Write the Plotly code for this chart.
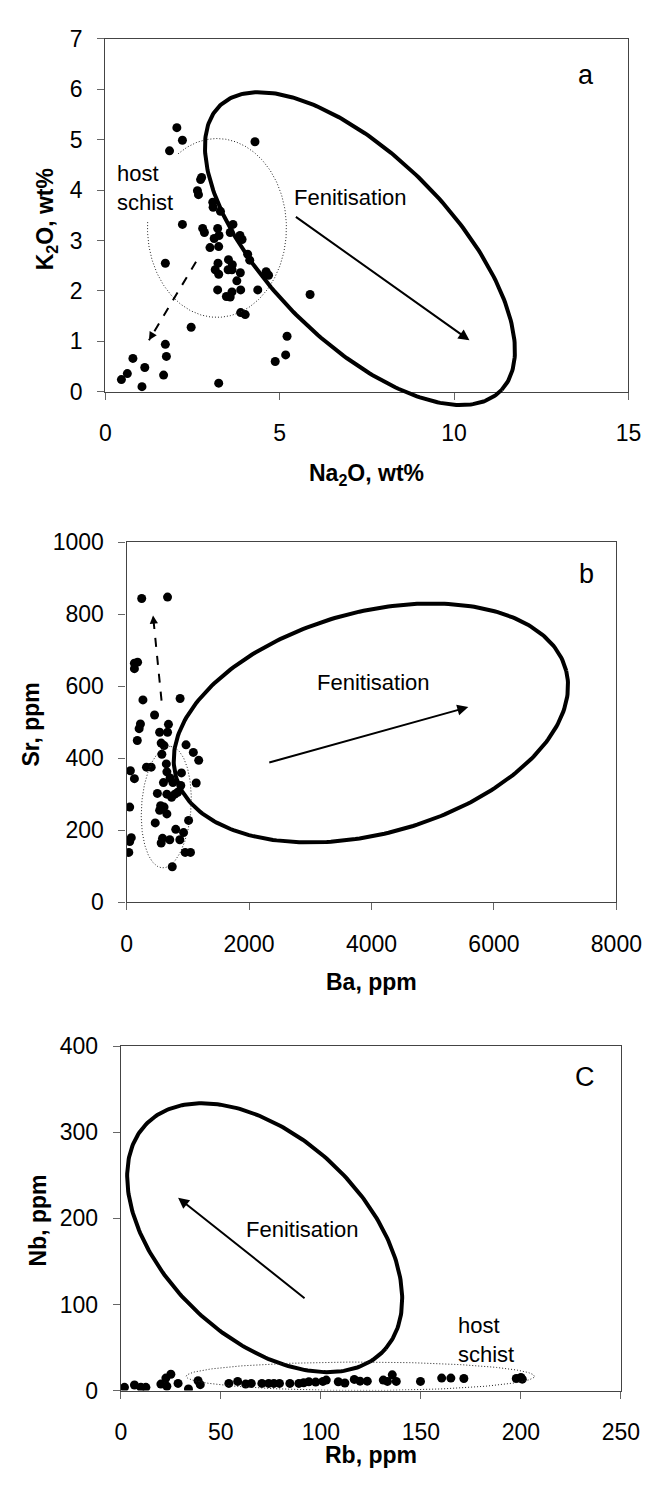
import numpy as np
import plotly.graph_objects as go

# ---- data ----
# panel a
na2o = [2.05, 2.21, 1.84, 4.29, 2.73, 2.76, 2.64, 2.67, 3.08, 3.09, 3.30, 2.21, 2.79, 2.84,
        3.22, 3.66, 3.58, 3.12, 3.26, 3.86, 3.92, 3.00, 3.25, 4.08, 4.14, 1.72, 3.23, 3.53,
        3.64, 3.15, 3.25, 3.52, 3.63, 3.87, 4.61, 4.68, 3.77, 3.22, 3.63, 3.88, 4.37, 3.47,
        3.58, 5.87, 3.88, 4.01, 2.46, 5.21, 1.72, 1.75, 5.17, 4.87, 0.79, 1.13, 1.67, 0.63,
        0.46, 1.05, 3.25]
k2o = [5.24, 4.99, 4.78, 4.96, 4.21, 4.25, 3.99, 3.91, 3.76, 3.66, 3.58, 3.32, 3.24, 3.16,
       3.24, 3.32, 3.16, 3.04, 3.10, 3.10, 3.02, 2.86, 2.88, 2.73, 2.61, 2.55, 2.55, 2.62,
       2.52, 2.42, 2.33, 2.42, 2.42, 2.36, 2.38, 2.31, 2.20, 2.02, 1.98, 2.02, 2.02, 1.89,
       1.88, 1.93, 1.57, 1.53, 1.28, 1.10, 0.94, 0.70, 0.73, 0.60, 0.66, 0.48, 0.33, 0.36,
       0.24, 0.10, 0.17]

# panel b
ba = [247, 669, 128, 180, 128, 267, 457, 874, 226, 205, 175, 684, 540, 669, 565, 612, 576,
      971, 1090, 1178, 325, 402, 649, 62, 128, 658, 710, 896, 602, 503, 1137, 757, 885, 834,
      658, 735, 788, 51, 556, 612, 540, 658, 468, 1013, 803, 587, 705, 870, 931, 77, 51, 565,
      36, 957, 1044, 746]
sr = [844, 848, 664, 667, 649, 562, 520, 566, 495, 482, 449, 494, 472, 472, 442, 435, 411,
      437, 416, 394, 375, 375, 384, 365, 343, 362, 345, 359, 332, 302, 331, 332, 324, 305,
      300, 291, 300, 264, 268, 264, 255, 245, 220, 227, 202, 177, 173, 173, 193, 179, 168,
      164, 138, 138, 138, 98]

# panel c
rb = [1.8, 6.8, 10, 12.5, 20, 22.5, 25, 23, 28.6, 33.8, 38.6, 39.7, 54, 58.4, 62.4, 65.2,
      70.5, 73.9, 76.5, 79.3, 84.5, 89, 91.4, 94, 97.4, 101, 102.7, 108.7, 112, 116.7, 119.6,
      123.2, 131.2, 133.3, 135.7, 137.7, 149.8, 160.4, 165, 171.5, 197.7, 200, 200.7]
nb = [3.8, 6.5, 3.8, 3.8, 7.6, 14.5, 19, 5, 8.4, 1.9, 11.4, 6.9, 8.4, 10.7, 7.6, 8.4, 8.4,
      8.4, 8.4, 8.4, 8.4, 8.4, 9.1, 10.3, 9.9, 10.7, 12.2, 10.3, 8.8, 13, 11, 11, 12.2, 10.7,
      18.3, 10.7, 10.7, 14.5, 14.5, 14.1, 14.1, 15.2, 13.3]

# ---- layout geometry ----
W, H = 662, 1486
dom = {
    "a": dict(x=[96 / W, 645.7 / W], y=[1 - 377.3 / H, 1 - 18.3 / H], xr=[0, 15], yr=[0, 7]),
    "b": dict(x=[118.3 / W, 633 / W], y=[1 - 896.7 / H, 1 - 530.7 / H], xr=[0, 8000], yr=[0, 1000]),
    "c": dict(x=[112.3 / W, 637.7 / W], y=[1 - 1394 / H, 1 - 1043.3 / H], xr=[0, 250], yr=[0, 400]),
}


def scale(p):
    d = dom[p]
    sx = (d["x"][1] - d["x"][0]) * W / (d["xr"][1] - d["xr"][0])
    sy = (d["y"][1] - d["y"][0]) * H / (d["yr"][1] - d["yr"][0])
    return sx, sy


def ellipse(p, cx, cy, a, b, ang, t0=0, t1=360):
    # a, b in screen px; ang in degrees (counter-clockwise on screen)
    sx, sy = scale(p)
    t = np.radians(np.linspace(t0, t1, 300))
    r = np.radians(ang)
    u, v = a * np.cos(t), b * np.sin(t)
    dx = u * np.cos(r) - v * np.sin(r)
    dy = u * np.sin(r) + v * np.cos(r)
    return cx + dx / sx, cy + dy / sy


FONT = "Liberation Sans, Arial, sans-serif"
fig = go.Figure()

dots = dict(mode="markers", marker=dict(size=9, color="black"), hoverinfo="skip")
fig.add_trace(go.Scatter(x=na2o, y=k2o, xaxis="x", yaxis="y", **dots))
fig.add_trace(go.Scatter(x=ba, y=sr, xaxis="x2", yaxis="y2", **dots))
fig.add_trace(go.Scatter(x=rb, y=nb, xaxis="x3", yaxis="y3", **dots))

thick = dict(mode="lines", line=dict(color="black", width=4), hoverinfo="skip")
dotted = dict(mode="lines", line=dict(color="#222", width=1, dash="1px,2px"), hoverinfo="skip")

# panel a: fenitisation ellipse (on an extended invisible axis so it can pass below the frame)
ex, ey = ellipse("a", 7.3, 2.84, 207, 95, -44)
fig.add_trace(go.Scatter(x=ex, y=ey, xaxis="x4", yaxis="y4", **thick))
ex, ey = ellipse("a", 3.2, 3.25, 73, 91, 0, 124, -184)
fig.add_trace(go.Scatter(x=ex, y=ey, xaxis="x", yaxis="y", **dotted))

# panel b
ex, ey = ellipse("b", 3990, 498, 212, 113, 14.5)
fig.add_trace(go.Scatter(x=ex, y=ey, xaxis="x2", yaxis="y2", **thick))
ex, ey = ellipse("b", 648, 264, 62, 26, 86)
fig.add_trace(go.Scatter(x=ex, y=ey, xaxis="x2", yaxis="y2", **dotted))

# panel c
ex, ey = ellipse("c", 71.9, 177.5, 170, 103.5, -41.6)
fig.add_trace(go.Scatter(x=ex, y=ey, xaxis="x3", yaxis="y3", **thick))
ex, ey = ellipse("c", 119.7, 16.6, 183, 14.5, 0)
fig.add_trace(go.Scatter(x=ex, y=ey, xaxis="x3", yaxis="y3", **dotted))

annotations = []


def arrow(ax_, ay_, x, y, n, width=2):
    annotations.append(dict(x=x, y=y, ax=ax_, ay=ay_, xref="x" + n, yref="y" + n,
                            axref="x" + n, ayref="y" + n, showarrow=True, arrowhead=2,
                            arrowsize=1.1, arrowwidth=width, arrowcolor="black", text=""))


def dashed_arrow(x0, y0, x1, y1, n):
    fig.add_trace(go.Scatter(x=[x0, x1], y=[y0, y1], xaxis="x" + n, yaxis="y" + n, mode="lines",
                             line=dict(color="black", width=2, dash="dash"), hoverinfo="skip"))
    k = 0.1
    arrow(x1 + k * (x0 - x1), y1 + k * (y0 - y1), x1, y1, n, width=1.5)


arrow(5.42, 3.49, 10.44, 1.02, "")
arrow(2306, 387, 5581, 542, "2")
arrow(92.6, 105.9, 28.6, 224, "3")
dashed_arrow(2.6, 2.58, 1.25, 1.02, "")
dashed_arrow(571, 560, 432, 797, "2")


def label(x, y, text, n, size=22, **kw):
    annotations.append(dict(x=x, y=y, xref="x" + n, yref="y" + n, text=text, showarrow=False,
                            font=dict(family=FONT, size=size, color="black"), **kw))


label(7.04, 3.85, "Fenitisation", "")
label(0.29, 4.05, "host<br>schist", "", xanchor="left", align="left")
label(13.79, 6.29, "a", "", size=27)
label(4039, 610, "Fenitisation", "2")
label(7509, 911, "b", "2", size=27)
label(90.6, 187.4, "Fenitisation", "3")
label(167.5, 59, "host<br>schist", "3", xanchor="left", align="left")
label(231.9, 363.8, "C", "3", size=27)

# axis titles
titles = [
    (0.5602, 1 - 462 / H, "Na<sub>2</sub>O, wt%", 0),
    (35 / W, 1 - 201.5 / H, "K<sub>2</sub>O, wt%", -90),
    (0.5675, 1 - 978 / H, "Ba, ppm", 0),
    (18 / W, 1 - 716 / H, "Sr, ppm", -90),
    (0.5665, 1 - 1460 / H, "Rb, ppm", 0),
    (25 / W, 1 - 1221 / H, "Nb, ppm", -90),
]
for x, y, t, ang in titles:
    annotations.append(dict(x=x, y=y, xref="paper", yref="paper", text="<b>" + t + "</b>",
                            textangle=ang, showarrow=False, xanchor="center", yanchor="middle",
                            font=dict(family=FONT, size=23, color="black")))

ax_style = dict(showgrid=False, zeroline=False, showline=True, mirror=True, linecolor="#444",
                linewidth=1.3, ticks="outside", ticklen=7, tickcolor="#666", tickwidth=1,
                tickfont=dict(family=FONT, size=23, color="black"), fixedrange=True)

layout = dict(width=W, height=H, margin=dict(l=0, r=0, t=0, b=0), showlegend=False,
              plot_bgcolor="rgba(0,0,0,0)", paper_bgcolor="white", annotations=annotations)
dticks = {"a": (5, 1), "b": (2000, 200), "c": (50, 100)}
for i, p in enumerate(["a", "b", "c"]):
    n = "" if i == 0 else str(i + 1)
    d = dom[p]
    layout["xaxis" + n] = dict(domain=d["x"], range=d["xr"], dtick=dticks[p][0], anchor="y" + n,
                               ticklabelstandoff=14, **ax_style)
    layout["yaxis" + n] = dict(domain=d["y"], range=d["yr"], dtick=dticks[p][1], anchor="x" + n,
                               ticklabelstandoff=10, **ax_style)

# invisible extended axes for panel a ellipse
sx_a, sy_a = scale("a")
ext = 30
layout["xaxis4"] = dict(domain=dom["a"]["x"], range=dom["a"]["xr"], visible=False, anchor="y4",
                        fixedrange=True)
layout["yaxis4"] = dict(domain=[dom["a"]["y"][0] - ext / H, dom["a"]["y"][1]],
                        range=[-ext / sy_a, dom["a"]["yr"][1]], visible=False, anchor="x4",
                        fixedrange=True)

fig.update_layout(**layout)
fig.write_html("out.html")
